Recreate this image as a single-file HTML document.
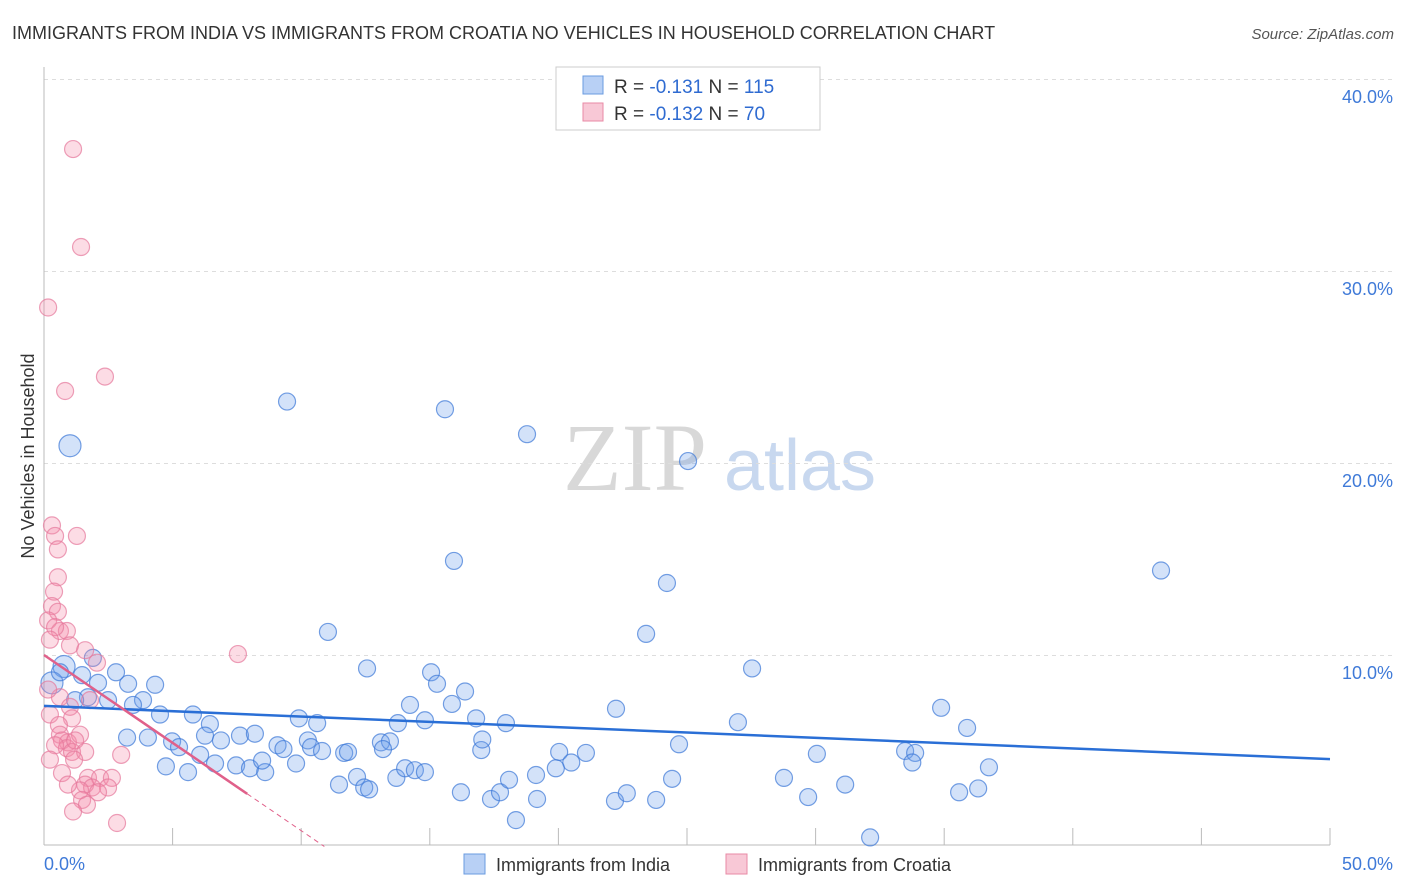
<!DOCTYPE html>
<html><head><meta charset="utf-8"><style>
body{margin:0;background:#fff;font-family:"Liberation Sans",sans-serif;}
svg{display:block}
</style></head><body>
<svg width="1406" height="892" viewBox="0 0 1406 892">
<text x="12" y="39" font-size="18" fill="#333">IMMIGRANTS FROM INDIA VS IMMIGRANTS FROM CROATIA NO VEHICLES IN HOUSEHOLD CORRELATION CHART</text>
<text x="1394" y="39" font-size="15" fill="#555" font-style="italic" text-anchor="end">Source: ZipAtlas.com</text>
<g>
<text x="635" y="490" font-size="96" fill="#d8d8d8" font-family="Liberation Serif,serif" text-anchor="middle">ZIP</text>
<text x="800" y="490" font-size="72" fill="#c8d8ef" text-anchor="middle">atlas</text>
</g>
<g id="grid"></g>
<g id="axes"></g>
<text transform="translate(34,456) rotate(-90)" font-size="18" fill="#333" text-anchor="middle">No Vehicles in Household</text>
<g id="pts"></g>
<g id="lines"></g>
<g>
<rect x="556" y="67" width="264" height="63" fill="#fff" stroke="#ccc"/>
<rect x="583" y="76" width="20" height="18" fill="#b8d0f5" stroke="#6a9be0"/>
<rect x="583" y="103" width="20" height="18" fill="#f8c8d6" stroke="#e88aa5"/>
<text x="614" y="93" font-size="19" fill="#333">R = <tspan fill="#2f6bd1">-0.131</tspan>   N = <tspan fill="#2f6bd1">115</tspan></text>
<text x="614" y="120" font-size="19" fill="#333">R = <tspan fill="#2f6bd1">-0.132</tspan>   N = <tspan fill="#2f6bd1">70</tspan></text>
</g>
<g>
<rect x="464" y="854" width="21" height="20" fill="#b8d0f5" stroke="#6a9be0"/>
<text x="496" y="871" font-size="18" fill="#333">Immigrants from India</text>
<rect x="726" y="854" width="21" height="20" fill="#f8c8d6" stroke="#e88aa5"/>
<text x="758" y="871" font-size="18" fill="#333">Immigrants from Croatia</text>
</g>
</svg>
<script>
const indiaX=[9.45,15.59,18.78,25.04,1.01,15.94,24.22,43.43,23.41,11.04,27.53,12.56,15.05,15.28,16.37,14.23,15.86,22.24,34.88,35.89,26.98,9.91,10.62,13.76,14.81,16.8,17.96,5.79,6.45,4.51,3.85,2.49,3.46,1.71,1.21,4.32,3.27,2.1,2.8,1.9,0.78,0.31,0.62,1.48,3.23,4.04,4.98,6.26,6.88,7.62,8.2,9.08,9.31,10.26,10.38,10.81,11.67,11.82,13.1,13.45,13.18,17.0,17.04,20.03,21.07,20.5,19.9,24.69,30.05,33.48,33.87,33.76,36.74,5.25,6.07,4.74,5.6,6.65,7.47,8.01,8.6,9.8,8.48,12.17,11.47,12.45,12.64,13.7,14.04,14.42,14.81,16.21,17.38,17.73,18.08,19.13,18.35,19.17,22.2,22.66,23.8,24.42,28.77,29.71,31.15,32.12,35.58,36.32];
const indiaY=[23.2,22.8,21.5,20.1,20.9,14.9,13.75,14.4,11.1,11.2,9.3,9.3,9.1,8.5,8.1,7.4,7.45,7.2,7.25,6.2,6.5,6.7,6.45,6.45,6.6,6.7,6.45,6.9,6.4,6.9,7.65,7.65,7.4,7.8,7.65,8.45,8.5,8.55,9.1,9.85,9.4,8.55,9.1,8.95,5.7,5.7,5.5,5.8,5.55,5.8,5.9,5.3,5.1,5.55,5.2,5.0,4.9,4.95,5.45,5.5,5.1,5.05,5.6,4.95,4.9,4.4,4.1,5.35,4.85,5.0,4.9,4.4,4.15,5.2,4.8,4.2,3.9,4.35,4.25,4.1,3.9,4.35,4.5,3.65,3.25,3.1,3.0,3.6,4.1,4.0,3.9,2.85,2.5,2.85,3.5,3.75,1.4,2.5,2.4,2.8,2.45,3.55,3.6,2.6,3.25,0.5,2.85,3.05];
const croX=[1.13,1.44,0.16,2.37,0.82,0.31,1.28,0.43,0.54,0.54,0.39,0.31,0.54,0.16,0.62,0.89,0.43,1.01,1.6,0.23,2.06,7.54,1.79,0.62,1.01,0.23,1.09,0.58,0.62,0.93,0.7,1.4,0.89,1.09,0.43,1.21,1.6,1.17,3.0,0.7,1.71,2.18,2.64,1.6,1.87,1.4,2.49,2.1,0.93,1.48,1.67,1.13,2.84,0.23,0.16];
const croY=[36.35,31.25,28.1,24.5,23.75,16.75,16.2,16.2,15.5,14.05,13.3,12.55,12.25,11.8,11.25,11.25,11.45,10.5,10.25,10.8,9.6,10.05,7.65,7.8,7.3,6.9,6.7,6.35,5.85,5.45,5.55,5.85,5.15,4.95,5.3,5.55,4.95,4.55,4.8,3.85,3.6,3.6,3.6,3.25,3.1,2.95,3.1,2.85,3.25,2.45,2.2,1.85,1.25,4.55,8.2];
const bigIndia=[1.01,0.78,0.31];
const yTicks=[10,20,30,40];
const xTickLabels=["0.0%","50.0%"];
const indiaTrend=[7.35,4.58];
const croTrend=[10.0,0.915,7.9,10.9]; // intercept, slope, solid end, dashed end
const NS="http://www.w3.org/2000/svg";
const X=v=>44+v/50*1286, Y=v=>847-v*19.2;
function mk(tag,attrs,parent){const e=document.createElementNS(NS,tag);for(const k in attrs)e.setAttribute(k,attrs[k]);parent.appendChild(e);return e;}
const grid=document.getElementById('grid'),axes=document.getElementById('axes'),pts=document.getElementById('pts'),lines=document.getElementById('lines');
yTicks.forEach(t=>{
 const l=mk('line',{x1:44,x2:1392,y1:Y(t)+0.5,y2:Y(t)+0.5,stroke:'#ddd','stroke-dasharray':'4,4'},grid);
 
 
 const tx=mk('text',{x:1393,y:Y(t)+24,'font-size':18,fill:'#3f7ad8','text-anchor':'end'},axes);
 tx.textContent=t.toFixed(1)+'%';
 
 
});
mk('line',{x1:44,x2:44,y1:67,y2:845,stroke:'#bbb'},axes);
mk('line',{x1:44,x2:1330,y1:845,y2:845,stroke:'#bbb'},axes);
for(let i=0;i<=10;i++){const x=X(i*5);mk('line',{x1:x,x2:x,y1:828,y2:845,stroke:'#bbb'},axes);}
[[0,'start',44],[50,'end',1393]].forEach((d,i)=>{const t=mk('text',{x:d[2],y:870,'font-size':18,fill:'#3f7ad8','text-anchor':d[1]},axes);t.textContent=xTickLabels[i];
 
 });
indiaX.forEach((x,i)=>{const big=bigIndia.includes(x)&&i>=40;
 const c=mk('circle',{cx:X(x),cy:Y(indiaY[i]),r:big?11:(x===1.01&&i===4?11:8.5),fill:'rgba(110,160,235,0.3)',stroke:'rgba(60,120,215,0.7)','stroke-width':1.2},pts);
 
 });
croX.forEach((x,i)=>{
 const c=mk('circle',{cx:X(x),cy:Y(croY[i]),r:8.5,fill:'rgba(245,140,170,0.3)',stroke:'rgba(230,120,155,0.7)','stroke-width':1.2},pts);
 
 });
const bl=mk('line',{x1:X(0),y1:Y(indiaTrend[0]),x2:X(50),y2:Y(indiaTrend[1]),stroke:'#2a6fd6','stroke-width':2.5},lines);


const cy=x=>croTrend[0]-croTrend[1]*x;
const pl=mk('line',{x1:X(0),y1:Y(cy(0)),x2:X(croTrend[2]),y2:Y(cy(croTrend[2])),stroke:'#e0608a','stroke-width':2.5},lines);


const pd=mk('line',{x1:X(croTrend[2]),y1:Y(cy(croTrend[2])),x2:X(croTrend[3]),y2:Y(cy(croTrend[3])),stroke:'#e0608a','stroke-width':1,'stroke-dasharray':'5,4'},lines);


</script>
</body></html>
